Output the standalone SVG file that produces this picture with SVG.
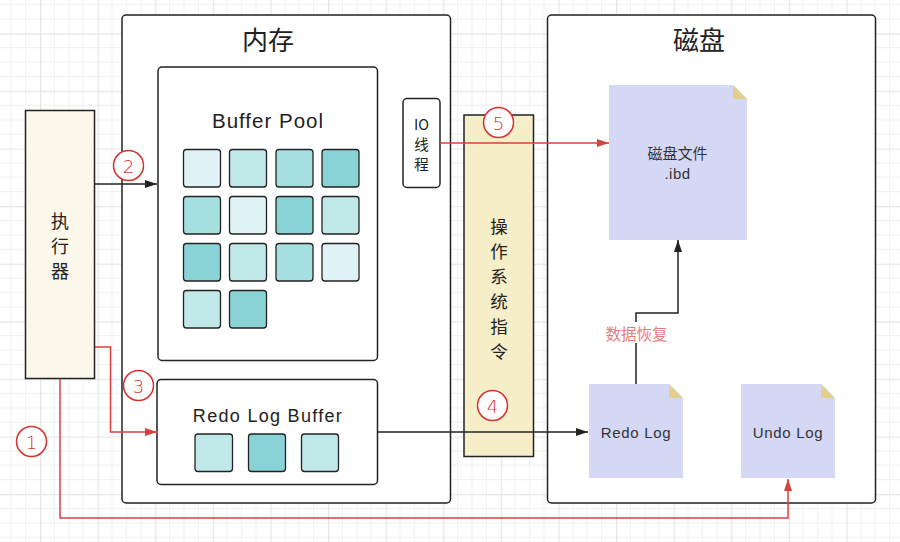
<svg xmlns="http://www.w3.org/2000/svg" width="900" height="542" viewBox="0 0 900 542">
<defs>
<pattern id="grid" patternUnits="userSpaceOnUse" x="-17.6" y="-24.3" width="57.6" height="57.6">
<path d="M14.4,0V57.6M28.8,0V57.6M43.2,0V57.6M0,14.4H57.6M0,28.8H57.6M0,43.2H57.6" stroke="#f0f0f0" stroke-width="1" fill="none"/>
<path d="M0.5,0V57.6M0,0.5H57.6" stroke="#e6e6e6" stroke-width="1.5" fill="none"/>
</pattern>
<marker id="ab" markerUnits="userSpaceOnUse" markerWidth="12" markerHeight="8" refX="12" refY="4" orient="auto"><path d="M0,0L12,4L0,8Z" fill="#222"/></marker>
<marker id="ar" markerUnits="userSpaceOnUse" markerWidth="12" markerHeight="8" refX="12" refY="4" orient="auto"><path d="M0,0L12,4L0,8Z" fill="#d9413c"/></marker>
</defs>
<style>
.box{fill:#fff;stroke:#222;stroke-width:1.5}
.cell{stroke:#222;stroke-width:1.3}
.c1{fill:#dff2f5}.c2{fill:#c1e8e8}.c3{fill:#a6dfe0}.c4{fill:#89d3d6}
.doc{fill:#d4d8f5}.fold{fill:#e3d08f}
.t{font-family:"Liberation Sans","Noto Sans CJK SC",sans-serif;fill:#222;text-anchor:middle}
.cjk{font-family:"Noto Sans CJK SC",sans-serif;fill:#222;text-anchor:middle;dominant-baseline:central}
.dl{font-family:"Liberation Sans","Noto Sans CJK SC",sans-serif;fill:#333;text-anchor:middle;dominant-baseline:central;font-size:15px}
.lb{fill:none;stroke:#222;stroke-width:1.5}
.lr{fill:none;stroke:#d9413c;stroke-width:1.5}
.num circle{fill:#fff;stroke:#d9302c;stroke-width:1.5}
.num text{font-family:"DejaVu Sans","Liberation Sans",sans-serif;font-weight:200;font-size:18px;fill:#d9302c;text-anchor:middle;dominant-baseline:central}
</style>
<rect width="900" height="542" fill="#fff"/>
<rect width="900" height="542" fill="url(#grid)"/>

<g id="executor">
<rect x="25.5" y="110.5" width="69" height="268" fill="#fbf7ea" stroke="#222" stroke-width="1.5"/>
<text class="cjk" x="60" y="220" font-size="18">执</text>
<text class="cjk" x="60" y="245" font-size="18">行</text>
<text class="cjk" x="60" y="270" font-size="18">器</text>
</g>

<g id="memory">
<rect class="box" x="122" y="15" width="328.5" height="488" rx="4"/>
<text class="cjk" x="268" y="38" font-size="26">内存</text>
</g>

<g id="buffer-pool">
<rect class="box" x="158" y="67" width="219.5" height="293.5" rx="4"/>
<text class="t" x="268" y="128" font-size="20.5" letter-spacing="1">Buffer Pool</text>
<rect class="cell c1" x="183.5" y="149.5" width="37" height="37.5" rx="3"/>
<rect class="cell c2" x="229.5" y="149.5" width="37" height="37.5" rx="3"/>
<rect class="cell c3" x="276" y="149.5" width="37" height="37.5" rx="3"/>
<rect class="cell c4" x="322" y="149.5" width="37" height="37.5" rx="3"/>
<rect class="cell c3" x="183.5" y="196.5" width="37" height="37.5" rx="3"/>
<rect class="cell c1" x="229.5" y="196.5" width="37" height="37.5" rx="3"/>
<rect class="cell c4" x="276" y="196.5" width="37" height="37.5" rx="3"/>
<rect class="cell c2" x="322" y="196.5" width="37" height="37.5" rx="3"/>
<rect class="cell c4" x="183.5" y="243.5" width="37" height="37.5" rx="3"/>
<rect class="cell c2" x="229.5" y="243.5" width="37" height="37.5" rx="3"/>
<rect class="cell c3" x="276" y="243.5" width="37" height="37.5" rx="3"/>
<rect class="cell c1" x="322" y="243.5" width="37" height="37.5" rx="3"/>
<rect class="cell c2" x="183.5" y="290.5" width="37" height="37.5" rx="3"/>
<rect class="cell c4" x="229.5" y="290.5" width="37" height="37.5" rx="3"/>
</g>

<g id="redo-log-buffer">
<rect class="box" x="157" y="379.5" width="220.5" height="105" rx="4"/>
<text class="t" x="268" y="422" font-size="18" letter-spacing="1.3">Redo Log Buffer</text>
<rect class="cell c2" x="195" y="434" width="37.5" height="37.5" rx="3"/>
<rect class="cell c4" x="248.5" y="434" width="37" height="37.5" rx="3"/>
<rect class="cell c2" x="301.5" y="434" width="37" height="37.5" rx="3"/>
</g>

<g id="io-thread">
<rect class="box" x="403" y="98.5" width="37" height="89" rx="4"/>
<text class="cjk" x="421.5" y="123" font-size="14.5">IO</text>
<text class="cjk" x="421.5" y="143" font-size="14.5">线</text>
<text class="cjk" x="421.5" y="163" font-size="14.5">程</text>
</g>

<g id="os-instruction">
<rect x="464" y="115" width="69.5" height="341.5" fill="#f6eec9" stroke="#222" stroke-width="1.5"/>
<text class="cjk" x="499" y="225" font-size="17.5">操</text>
<text class="cjk" x="499" y="250" font-size="17.5">作</text>
<text class="cjk" x="499" y="275.5" font-size="17.5">系</text>
<text class="cjk" x="499" y="300.5" font-size="17.5">统</text>
<text class="cjk" x="499" y="325.5" font-size="17.5">指</text>
<text class="cjk" x="499" y="350.5" font-size="17.5">令</text>
</g>

<g id="disk">
<rect class="box" x="547.5" y="15" width="328" height="488" rx="4"/>
<text class="cjk" x="699" y="38" font-size="26">磁盘</text>
</g>

<g id="ibd-file">
<path class="doc" d="M609,85H733L747,99V240H609Z"/>
<path class="fold" d="M733,85L747,99H733Z"/>
<text class="dl" x="677.5" y="153" font-size="15">磁盘文件</text>
<text class="dl" x="677.5" y="173" letter-spacing="0.5">.ibd</text>
</g>

<g id="redo-log">
<path class="doc" d="M589,384H669L683,398V478H589Z"/>
<path class="fold" d="M669,384L683,398H669Z"/>
<text class="dl" x="636" y="432" letter-spacing="0.7">Redo Log</text>
</g>

<g id="undo-log">
<path class="doc" d="M741,384H821L835,398V478H741Z"/>
<path class="fold" d="M821,384L835,398H821Z"/>
<text class="dl" x="788" y="432" letter-spacing="0.7">Undo Log</text>
</g>

<g id="connectors">
<path class="lr" d="M60,379V518H788V479" marker-end="url(#ar)"/>
<path class="lb" d="M95,184H157" marker-end="url(#ab)"/>
<path class="lr" d="M95,347H110.5V432H157" marker-end="url(#ar)"/>
<path class="lb" d="M378,432H588" marker-end="url(#ab)"/>
<path class="lr" d="M440,143H609" marker-end="url(#ar)"/>
<path class="lb" d="M636,384V313H678V240" marker-end="url(#ab)"/>
<rect x="603" y="322" width="66" height="21" fill="#fff"/>
<text x="636.5" y="332.5" font-family="Noto Sans CJK SC,sans-serif" font-size="15.5" fill="#e87c7c" text-anchor="middle" dominant-baseline="central">数据恢复</text>
<g class="num"><circle cx="31.5" cy="441.5" r="15"/><text x="31.5" y="442">1</text></g>
<g class="num"><circle cx="128.5" cy="165.5" r="15"/><text x="128.5" y="166">2</text></g>
<g class="num"><circle cx="138.5" cy="385.5" r="15"/><text x="138.5" y="386">3</text></g>
<g class="num"><circle cx="492.5" cy="405.5" r="15"/><text x="492.5" y="406">4</text></g>
<g class="num"><circle cx="498.5" cy="122.5" r="15"/><text x="498.5" y="123">5</text></g>
</g>
</svg>
